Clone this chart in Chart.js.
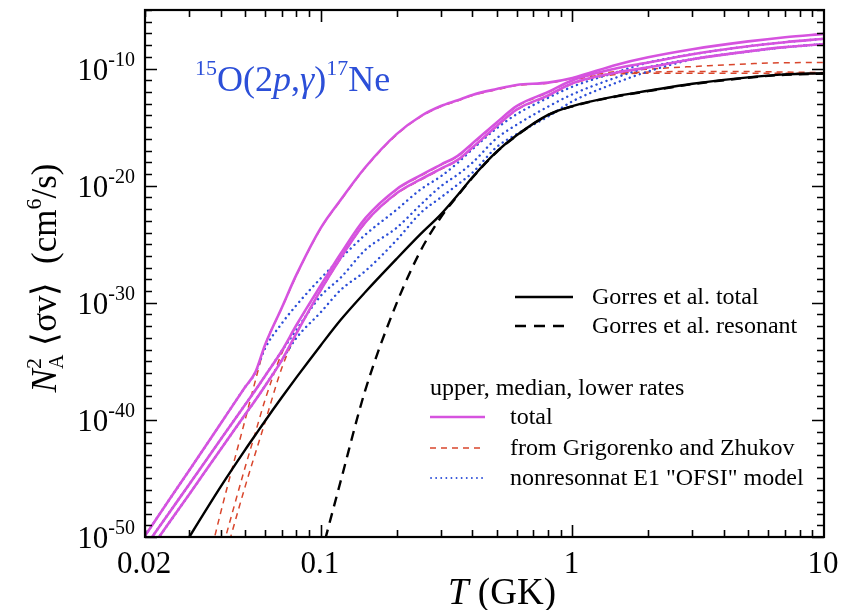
<!DOCTYPE html>
<html>
<head>
<meta charset="utf-8">
<script src="https://cdn.jsdelivr.net/npm/chart.js@4.4.1/dist/chart.umd.min.js"></script>
<style>
  html, body { margin: 0; padding: 0; background: #fff; }
</style>
</head>
<body>
<canvas id="myChart" width="854" height="610"></canvas>
<script>
// temperature grid, GK
const temps = [0.02, 0.025, 0.03, 0.04, 0.05, 0.055, 0.06, 0.07, 0.08, 0.1, 0.12, 0.15, 0.2, 0.25, 0.3, 0.35, 0.4, 0.5, 0.6, 0.8, 1, 1.5, 2, 3, 5, 7, 10];

// log10 of N_A^2 <sigma v> (cm^6/s); null = not drawn
const gorresTotal = [-56.5, -52.8, -50.0, -45.7, -42.56, -41.27, -40.09, -38.07, -36.37, -33.62, -31.45, -29.1, -26.25, -24.1, -22.45, -20.8, -19.3, -17.1, -15.7, -13.95, -13.2, -12.35, -11.9, -11.3, -10.75, -10.5, -10.4];
const gorresResonant = [null, null, null, null, null, null, null, null, null, -51.6, -45.2, -37.5, -30.05, -25.5, -22.7, -20.85, -19.33, -17.13, -15.73, -13.98, -13.23, -12.38, -11.93, -11.33, -10.78, -10.53, -10.43];

const totalUpper = [-49.9, -46.8, -44.3, -40.3, -37.2, -35.9, -33.6, -30.4, -27.6, -23.6, -21.2, -18.45, -15.6, -14.05, -13.2, -12.7, -12.25, -11.75, -11.4, -11.2, -10.8, -9.67, -9.04, -8.35, -7.68, -7.32, -7.04];
const totalMedian = [-50.85, -47.9, -45.5, -41.65, -38.7, -37.45, -36.25, -34.1, -31.9, -28.5, -25.8, -22.8, -20.3, -19.1, -18.2, -17.45, -16.4, -14.6, -13.2, -12.0, -11.0, -9.98, -9.49, -8.78, -8.1, -7.75, -7.46];
const totalLower = [-51.7, -48.75, -46.35, -42.5, -39.55, -38.3, -37.1, -34.9, -32.6, -28.9, -26.15, -23.15, -20.65, -19.45, -18.55, -17.8, -16.75, -14.9, -13.5, -12.3, -11.25, -10.34, -9.9, -9.2, -8.53, -8.17, -7.9];

const gzUpper = [null, null, -59, -47.9, -40.0, -36.6, -33.65, -30.45, -27.65, -23.65, -21.25, -18.5, -15.65, -14.1, -13.25, -12.75, -12.3, -11.8, -11.45, -11.25, -10.85, -10.25, -10.05, -9.83, -9.6, -9.5, -9.49];
const gzMedian = [null, null, null, -51.5, -44.05, -41.05, -38.3, -34.3, -31.95, -28.55, -25.85, -22.85, -20.35, -19.15, -18.25, -17.5, -16.45, -14.65, -13.25, -12.05, -11.05, -10.4, -10.3, -10.25, -10.25, -10.3, -10.35];
const gzLower = [null, null, null, -53, -45.7, -42.8, -40.2, -35.55, -32.65, -28.95, -26.2, -23.2, -20.7, -19.5, -18.6, -17.85, -16.8, -14.95, -13.55, -12.35, -11.3, -10.5, -10.4, -10.4, -10.4, -10.4, -10.45];

const ofsiUpper = [-49.9, -46.8, -44.3, -40.3, -37.2, -35.95, -33.9, -31.75, -30.2, -27.9, -26.2, -24.2, -22.05, -20.3, -19.2, -18.05, -16.9, -15.1, -13.9, -12.5, -11.55, -10.3, -9.49, -8.78, -8.1, -7.75, -7.46];
const ofsiMedian = [-50.85, -47.9, -45.5, -41.65, -38.7, -37.45, -36.25, -34.1, -32.3, -29.4, -27.85, -25.5, -23.6, -21.6, -20.05, -19.05, -18.05, -15.95, -14.8, -13.25, -12.2, -10.75, -9.9, -9.2, -8.53, -8.17, -7.9];
const ofsiLower = [-51.7, -48.75, -46.35, -42.5, -39.55, -38.3, -37.1, -34.9, -33.0, -30.8, -28.9, -27.3, -24.65, -22.3, -21.0, -19.9, -18.9, -16.7, -15.6, -14.1, -12.8, -11.2, -10.25, -9.22, -8.55, -8.19, -7.92];

// axis labels
const xTickValues = [0.02, 0.1, 1, 10];
const xTickLabels = ['0.02', '0.1', '1', '10'];
const yTickExps = [-50, -40, -30, -20, -10];

const MAGENTA = '#d653df';
const RED = '#d9462c';
const BLUE = '#2c4fd8';
const SERIF = '"Liberation Serif", "Times New Roman", serif';

function toPoints(logs) {
  const pts = [];
  logs.forEach(function (v, i) {
    if (v !== null) pts.push({ x: temps[i], y: Math.pow(10, v) });
  });
  return pts;
}

function line(data, color, width, dash, order, cap) {
  return {
    data: toPoints(data),
    borderColor: color,
    borderWidth: width,
    borderDash: dash || [],
    borderCapStyle: cap || 'butt',
    pointRadius: 0,
    fill: false,
    cubicInterpolationMode: 'monotone',
    order: order
  };
}

// text made of runs: [{t, size, italic, dy, stack}]
function runsWidth(ctx, runs) {
  let w = 0;
  runs.forEach(function (r) {
    ctx.font = (r.italic ? 'italic ' : '') + r.size + 'px ' + SERIF;
    if (!r.stack) w += ctx.measureText(r.t).width;
  });
  return w;
}
function drawRuns(ctx, runs, x, y) {
  let cx = x;
  runs.forEach(function (r) {
    ctx.font = (r.italic ? 'italic ' : '') + r.size + 'px ' + SERIF;
    ctx.fillText(r.t, cx, y + (r.dy || 0));
    if (!r.stack) cx += ctx.measureText(r.t).width;
  });
}

const decor = {
  id: 'decor',
  afterDatasetsDraw(chart) {
    const ctx = chart.ctx, a = chart.chartArea;
    const xs = chart.scales.x, ys = chart.scales.y;
    ctx.save();
    ctx.fillStyle = '#000';
    ctx.strokeStyle = '#000';

    // ticks on all four sides
    ctx.lineWidth = 1.6;
    ctx.beginPath();
    [0.01, 0.1, 1].forEach(function (d) {
      for (let m = 1; m <= 9; m++) {
        const v = d * m;
        if (v < 0.02 - 1e-9 || v > 10) continue;
        const px = Math.round(xs.getPixelForValue(v)) + 0.5;
        const len = m === 1 ? 12 : 7;
        ctx.moveTo(px, a.bottom); ctx.lineTo(px, a.bottom - len);
        ctx.moveTo(px, a.top); ctx.lineTo(px, a.top + len);
      }
    });
    for (let e = -50; e <= -5; e++) {
      const py = Math.round(ys.getPixelForValue(Math.pow(10, e))) + 0.5;
      const len = e % 10 === 0 ? 12 : 7;
      ctx.moveTo(a.left, py); ctx.lineTo(a.left + len, py);
      ctx.moveTo(a.right, py); ctx.lineTo(a.right - len, py);
    }
    ctx.stroke();

    // frame
    ctx.lineWidth = 2.2;
    ctx.strokeRect(a.left, a.top, a.right - a.left, a.bottom - a.top);

    // x tick labels
    ctx.font = '31px ' + SERIF;
    ctx.textAlign = 'center';
    ctx.textBaseline = 'alphabetic';
    xTickValues.forEach(function (v, i) {
      ctx.fillText(xTickLabels[i], xs.getPixelForValue(v) - 1, 573);
    });

    // y tick labels 10^n
    ctx.textAlign = 'left';
    yTickExps.forEach(function (e) {
      const py = ys.getPixelForValue(Math.pow(10, e));
      const runs = [{ t: '10', size: 31 }, { t: String(e), size: 20, dy: -14 }];
      const w = runsWidth(ctx, runs);
      drawRuns(ctx, runs, 135 - w, py + 11);
    });

    // x title
    let runs = [{ t: 'T', size: 37, italic: true }, { t: ' (GK)', size: 37 }];
    let w = runsWidth(ctx, runs);
    drawRuns(ctx, runs, 502 - w / 2, 604);

    // y title (rotated)
    ctx.save();
    ctx.translate(56, 278);
    ctx.rotate(-Math.PI / 2);
    runs = [
      { t: 'N', size: 35, italic: true },
      { t: '2', size: 22, dy: -15, stack: true },
      { t: 'A', size: 20, dy: 7 },
      { t: ' \u27E8\u03C3v\u27E9  (cm', size: 35 },
      { t: '6', size: 22, dy: -15 },
      { t: '/s)', size: 35 }
    ];
    w = runsWidth(ctx, runs);
    drawRuns(ctx, runs, -w / 2, 0);
    ctx.restore();

    // reaction label
    ctx.fillStyle = BLUE;
    runs = [
      { t: '15', size: 22, dy: -16 },
      { t: 'O(2', size: 36 },
      { t: 'p', size: 36, italic: true },
      { t: ',', size: 36 },
      { t: '\u03B3', size: 36, italic: true },
      { t: ')', size: 36 },
      { t: '17', size: 22, dy: -16 },
      { t: 'Ne', size: 36 }
    ];
    drawRuns(ctx, runs, 195, 91);

    // legend
    ctx.fillStyle = '#000';
    ctx.font = '24px ' + SERIF;
    function sample(x1, x2, y, color, width, dash, cap) {
      ctx.save();
      ctx.strokeStyle = color; ctx.lineWidth = width;
      ctx.setLineDash(dash); ctx.lineCap = cap || 'butt';
      ctx.beginPath(); ctx.moveTo(x1, y); ctx.lineTo(x2, y); ctx.stroke();
      ctx.restore();
    }
    sample(515, 573, 297, '#000', 2.6, []);
    ctx.fillText('Gorres et al. total', 592, 304);
    sample(515, 566, 326, '#000', 2.6, [11, 8]);
    ctx.fillText('Gorres et al. resonant', 592, 333);
    ctx.fillText('upper, median, lower rates', 430, 395);
    sample(430, 485, 417, MAGENTA, 2.6, []);
    ctx.fillText('total', 510, 424);
    sample(430, 483, 448, RED, 1.5, [6, 5]);
    ctx.fillText('from Grigorenko and Zhukov', 510, 455);
    sample(431, 483, 478, BLUE, 1.8, [0.1, 5], 'round');
    ctx.fillText('nonresonnat E1 "OFSI" model', 510, 485);

    ctx.restore();
  }
};

const ctx = document.getElementById('myChart').getContext('2d');
const myChart = new Chart(ctx, {
  type: 'line',
  data: {
    datasets: [
      line(totalUpper, MAGENTA, 2.6, null, 0),
      line(totalMedian, MAGENTA, 2.6, null, 0),
      line(totalLower, MAGENTA, 2.6, null, 0),
      line(gorresTotal, '#000', 2.4, null, 1),
      line(gorresResonant, '#000', 2.4, [10, 7], 2),
      line(ofsiUpper, BLUE, 2.4, [0.1, 5.2], 3, 'round'),
      line(ofsiMedian, BLUE, 2.4, [0.1, 5.2], 3, 'round'),
      line(ofsiLower, BLUE, 2.4, [0.1, 5.2], 3, 'round'),
      line(gzUpper, RED, 1.5, [6, 5], 4),
      line(gzMedian, RED, 1.5, [6, 5], 4),
      line(gzLower, RED, 1.5, [6, 5], 4)
    ]
  },
  options: {
    responsive: false,
    animation: false,
    devicePixelRatio: 1,
    layout: { padding: { left: 145, right: 30, top: 10, bottom: 73 } },
    plugins: { legend: { display: false }, tooltip: { enabled: false } },
    scales: {
      x: { type: 'logarithmic', min: 0.02, max: 10, display: false },
      y: { type: 'logarithmic', min: 1e-50, max: 1e-5, display: false }
    }
  },
  plugins: [decor]
});
</script>
</body>
</html>
